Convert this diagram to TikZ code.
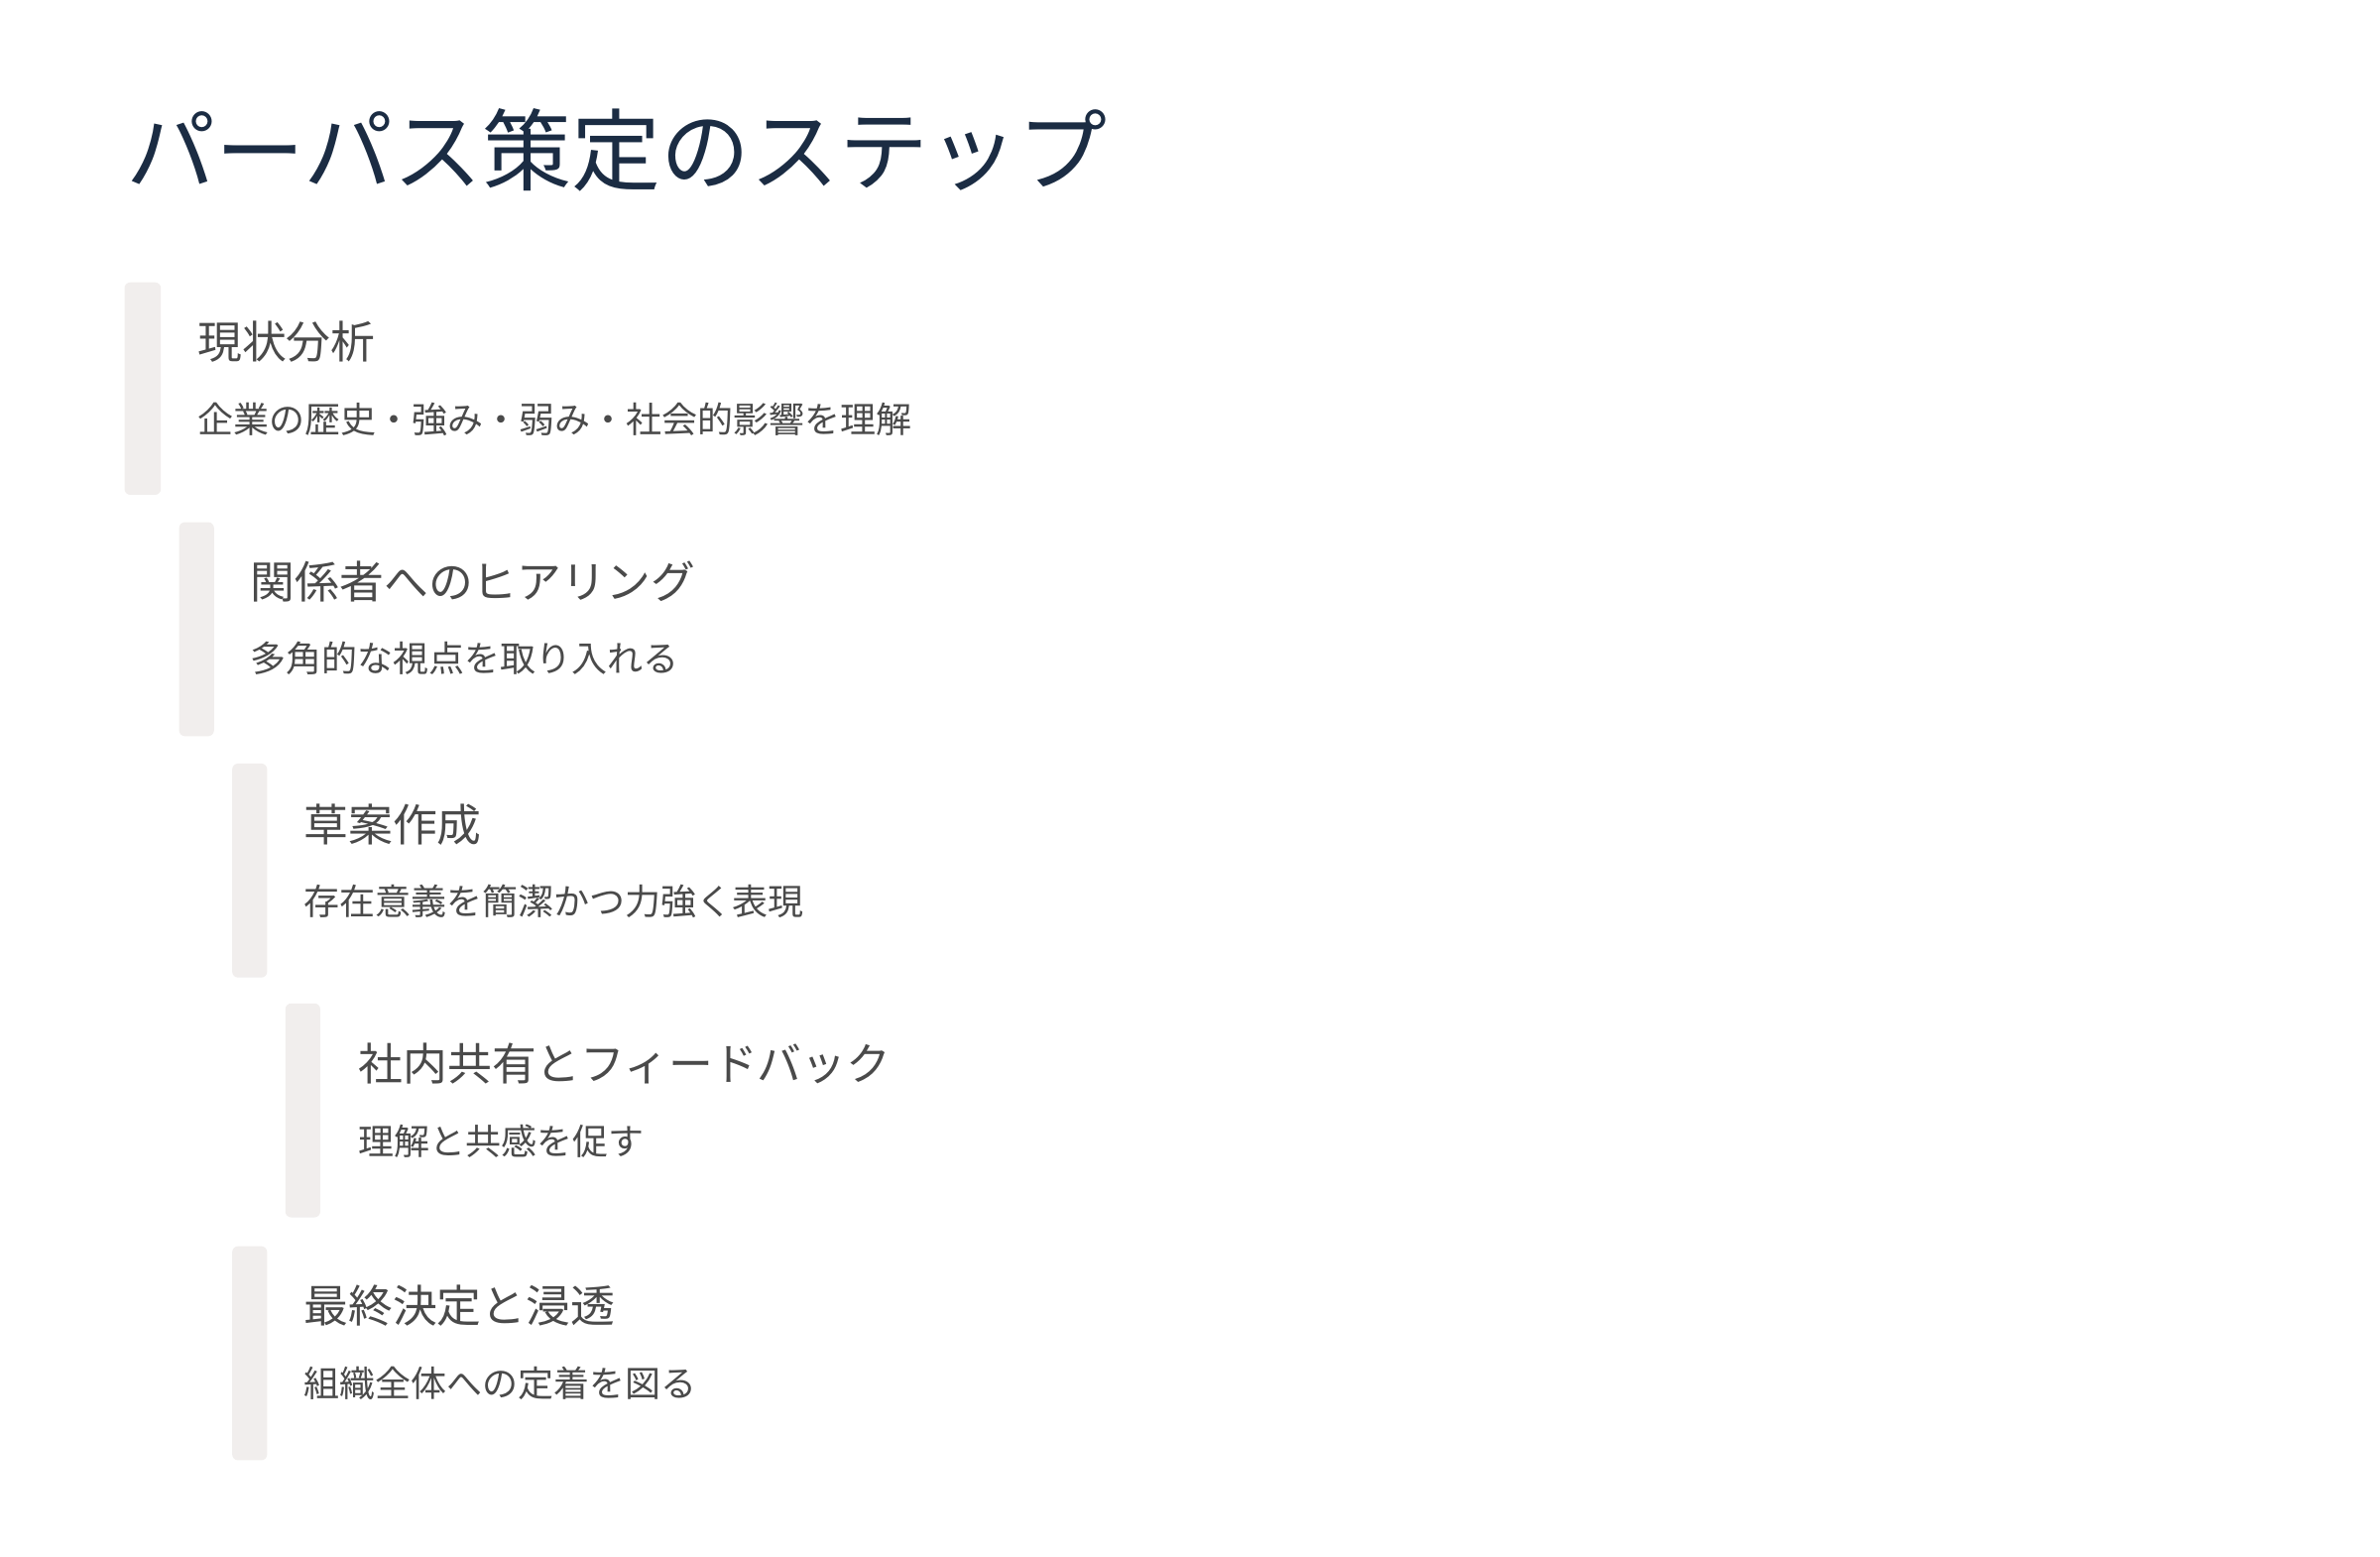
\documentclass[tikz,border=0pt]{standalone}
\usepackage{fontspec}
\newfontfamily\jp{Noto Sans CJK JP}
\definecolor{titlec}{HTML}{1B2C43}
\definecolor{textc}{HTML}{4A4A4A}
\definecolor{barc}{HTML}{F1EEED}
\begin{document}
\begin{tikzpicture}[x=0.76531pt,y=-0.76531pt,
  bar/.style={fill=barc,draw=none,rounded corners=3pt},
  heading/.style={anchor=west,inner sep=0pt,text=textc,font=\jp\fontsize{22.4pt}{26pt}\selectfont},
  desc/.style={anchor=west,inner sep=0pt,text=textc,font=\jp\fontsize{18pt}{22pt}\selectfont},
  ttl/.style={anchor=west,inner sep=0pt,text=titlec,font=\jp\fontsize{45pt}{54pt}\selectfont}]
\useasboundingbox[fill=white] (0,0) rectangle (1568,1025.7);
\node[ttl] (title) at (83,99) {パーパス策定のステップ};
% step 1
\path[bar] (82,186) rectangle (106,326);
\node[heading] (h1) at (130,225) {現状分析};
\node[desc] (d1) at (130,276) {企業の歴史・強み・弱み・社会的影響を理解};
% step 2
\path[bar] (118,344) rectangle (141,485);
\node[heading] (h2) at (165,383) {関係者へのヒアリング};
\node[desc] (d2) at (165,434) {多角的な視点を取り入れる};
% step 3
\path[bar] (153,503) rectangle (176,644);
\node[heading] (h3) at (200,543) {草案作成};
\node[desc] (d3) at (200,594) {存在意義を簡潔かつ力強く表現};
% step 4
\path[bar] (188,661) rectangle (211,802);
\node[heading] (h4) at (236,701) {社内共有とフィードバック};
\node[desc] (d4) at (236,752) {理解と共感を促す};
% step 5
\path[bar] (153,821) rectangle (176,962);
\node[heading] (h5) at (200,860) {最終決定と浸透};
\node[desc] (d5) at (200,911) {組織全体への定着を図る};
\end{tikzpicture}
\end{document}
